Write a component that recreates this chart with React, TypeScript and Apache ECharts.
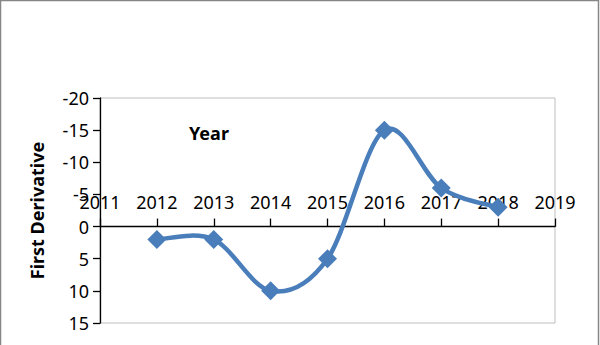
import React, { useEffect, useRef } from "react";
import * as echarts from "echarts";

const years = [2012, 2013, 2014, 2015, 2016, 2017, 2018];
const firstDerivative = [2, 2, 10, 5, -15, -6, -3];
const yTicks = { min: -20, max: 15, interval: 5 };
const xTicks = { min: 2011, max: 2019, interval: 1 };
const yAxisTitle = "First Derivative";
const xAxisTitle = "Year";

const lineColor = "#4a7ebb";

export default function App() {
  const ref = useRef<HTMLDivElement>(null);
  useEffect(() => {
    if (!ref.current) return;
    const chart = echarts.init(ref.current, null, { renderer: "svg" });
    const font = "'Noto Sans', sans-serif";
    const points = years.map((y, i) => [y, firstDerivative[i]]);
    const gridTop = 98;
    const gridBottom = 22;
    const gridHeight = 345 - gridTop - gridBottom;
    // distance from the grid's bottom edge up to the y = 0 line (inverted axis)
    const zeroOffset = (gridHeight * (yTicks.max - 0)) / (yTicks.max - yTicks.min);
    chart.setOption({
      animation: false,
      backgroundColor: "#ffffff",
      grid: {
        left: 100,
        right: 45,
        top: gridTop,
        bottom: gridBottom,
        show: true,
        borderColor: "#bfbfbf",
        borderWidth: 1,
        backgroundColor: "transparent",
        outerBoundsMode: "none",
      },
      xAxis: {
        type: "value",
        position: "bottom",
        offset: -zeroOffset,
        min: xTicks.min,
        max: xTicks.max,
        interval: xTicks.interval,
        axisLine: { show: true, onZero: false, lineStyle: { color: "#000", width: 1.3 } },
        axisTick: { show: true, inside: true, length: 8, lineStyle: { color: "#000", width: 1.3 } },
        axisLabel: {
          inside: true,
          margin: 16,
          color: "#000",
          fontSize: 18,
          fontFamily: font,
          formatter: (v: number) => String(v),
        },
        splitLine: { show: false },
      },
      yAxis: {
        type: "value",
        inverse: true,
        min: yTicks.min,
        max: yTicks.max,
        interval: yTicks.interval,
        name: yAxisTitle,
        nameLocation: "middle",
        nameRotate: 90,
        nameGap: 54,
        nameTextStyle: { color: "#000", fontSize: 18, fontWeight: "bold", fontFamily: font },
        axisLine: { show: true, lineStyle: { color: "#000", width: 1.3 } },
        axisTick: { show: true, length: 7, lineStyle: { color: "#000", width: 1.3 } },
        axisLabel: { margin: 11, color: "#000", fontSize: 18, fontFamily: font },
        splitLine: { show: false },
      },
      graphic: [
        {
          type: "polyline",
          shape: { points: [[0.5, 345], [0.5, 0.5], [598.5, 0.5], [598.5, 345]] },
          style: { stroke: "#868686", lineWidth: 1.5, fill: "none" },
          silent: true,
        },
        {
          type: "text",
          left: 189,
          top: 124,
          style: { text: xAxisTitle, fill: "#000", fontSize: 18, fontWeight: "bold", fontFamily: font },
        },
      ],
      series: [
        {
          type: "custom",
          data: points,
          clip: false,
          renderItem: (params: any, api: any) => {
            if (params.dataIndex !== 0) return null;
            const c = points.map((p) => api.coord(p));
            let d = `M${c[0][0]},${c[0][1]}`;
            for (let i = 0; i < c.length - 1; i++) {
              const p0 = c[i - 1] || c[i];
              const p1 = c[i];
              const p2 = c[i + 1];
              const p3 = c[i + 2] || c[i + 1];
              const cp1x = p1[0] + (p2[0] - p0[0]) / 6;
              const cp1y = p1[1] + (p2[1] - p0[1]) / 6;
              const cp2x = p2[0] - (p3[0] - p1[0]) / 6;
              const cp2y = p2[1] - (p3[1] - p1[1]) / 6;
              d += ` C${cp1x},${cp1y} ${cp2x},${cp2y} ${p2[0]},${p2[1]}`;
            }
            return {
              type: "path",
              shape: { pathData: d },
              style: { stroke: lineColor, lineWidth: 4.5, fill: "none" },
            };
          },
        },
        {
          type: "scatter",
          data: points,
          symbol: "diamond",
          symbolSize: 19,
          itemStyle: { color: lineColor, opacity: 1 },
        },
      ],
    });
    return () => chart.dispose();
  }, []);
  return (
    <div
      ref={ref}
      style={{ position: "fixed", left: 0, top: 0, width: 600, height: 345 }}
    />
  );
}
